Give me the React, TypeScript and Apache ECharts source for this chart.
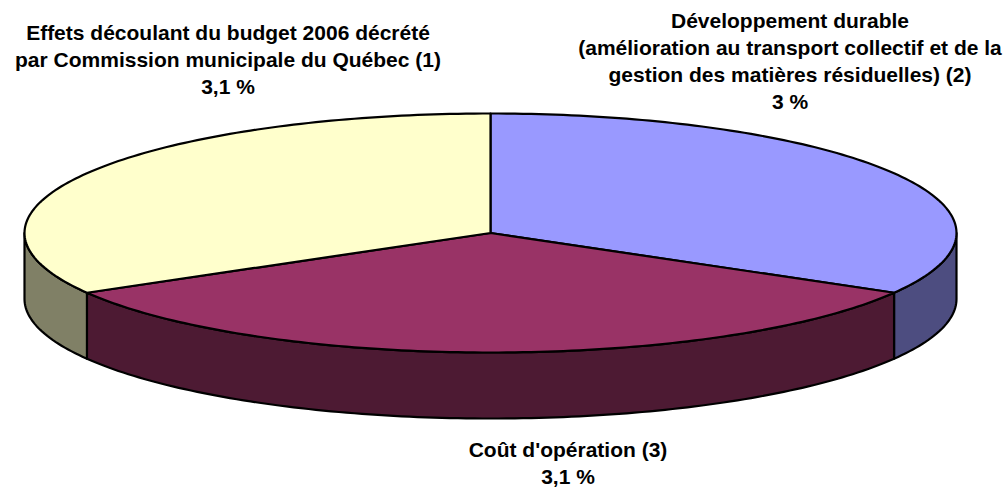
import { useEffect, useRef } from "react";
import * as echarts from "echarts";

// ---- Data ----
const categories = [
  "Développement durable\n(amélioration au transport collectif et de la\ngestion des matières résiduelles) (2)",
  "Coût d'opération (3)",
  "Effets découlant du budget 2006 décrété\npar Commission municipale du Québec (1)",
];
const rates = [3, 3.1, 3.1];
// slice sizes as drawn (three equal thirds)
const sliceShares = [1, 1, 1];

// ---- Styles ----
const topColors = ["#9999FF", "#993366", "#FFFFCC"];
const sideColors = ["#4D4D80", "#4D1A33", "#808066"];

// ---- Layout ----
const CX = 490.5;
const CY = 233;
const RX = 466;
const RY = 119.5;
const DEPTH = 66;
const labelAnchors = [
  { x: 790, y: 7 },
  { x: 568, y: 436 },
  { x: 228, y: 19 },
];

const fmtRate = (r: number) => String(r).replace(".", ",") + " %";

function pt(a: number, dy: number) {
  const r = (a * Math.PI) / 180;
  return [CX + RX * Math.cos(r), CY - RY * Math.sin(r) + dy];
}
function arc(a0: number, a1: number, dy: number) {
  const pts: number[][] = [];
  const n = Math.max(2, Math.ceil(Math.abs(a0 - a1)));
  for (let k = 0; k <= n; k++) pts.push(pt(a0 + ((a1 - a0) * k) / n, dy));
  return pts;
}

export default function App() {
  const ref = useRef<HTMLDivElement>(null);
  useEffect(() => {
    document.body.style.margin = "0";
    if (!ref.current) return;
    const chart = echarts.init(ref.current, undefined, { renderer: "svg" });
    const total = sliceShares.reduce((a, b) => a + b, 0);
    const angles: number[][] = [];
    let cum = 0;
    sliceShares.forEach((v) => {
      const a0 = 90 - (360 * cum) / total;
      cum += v;
      const a1 = 90 - (360 * cum) / total;
      angles.push([a0, a1]);
    });
    const lineStyle = { stroke: "#000", lineWidth: 2.2, lineJoin: "round" };
    const data = sliceShares.map((v, i) => ({ value: v, name: categories[i] }));

    chart.setOption({
      animation: false,
      backgroundColor: "#fff",
      series: [
        {
          type: "custom",
          coordinateSystem: "none",
          silent: true,
          z: 1,
          data,
          renderItem: (params: any) => {
            const i = params.dataIndex;
            const [a0, a1] = angles[i];
            const children: any[] = [];
            for (let k = -1; k <= 1; k++) {
              const lo = -180 + 360 * k;
              const hi = 360 * k;
              const s0 = Math.min(a0, hi);
              const s1 = Math.max(a1, lo);
              if (s0 > s1 + 0.01) {
                children.push({
                  type: "polygon",
                  shape: { points: [...arc(s0, s1, 0), ...arc(s1, s0, DEPTH)] },
                  style: { fill: sideColors[i], ...lineStyle },
                });
              }
            }
            return { type: "group", children };
          },
        },
        {
          type: "custom",
          coordinateSystem: "none",
          silent: true,
          z: 2,
          data,
          renderItem: (params: any) => {
            const i = params.dataIndex;
            const [a0, a1] = angles[i];
            return {
              type: "polygon",
              shape: { points: [[CX, CY], ...arc(a0, a1, 0)] },
              style: { fill: topColors[i], ...lineStyle },
            };
          },
        },
      ],
      graphic: categories.map((c, i) => ({
        type: "text",
        x: labelAnchors[i].x,
        y: labelAnchors[i].y,
        z: 10,
        style: {
          text: c + "\n" + fmtRate(rates[i]),
          align: "center",
          verticalAlign: "top",
          fontFamily: '"Liberation Sans", Arial, sans-serif',
          fontWeight: "bold",
          fontSize: 21,
          lineHeight: 27,
          fill: "#000",
        },
      })),
    });
    return () => chart.dispose();
  }, []);
  return <div ref={ref} style={{ width: 1008, height: 495 }} />;
}
